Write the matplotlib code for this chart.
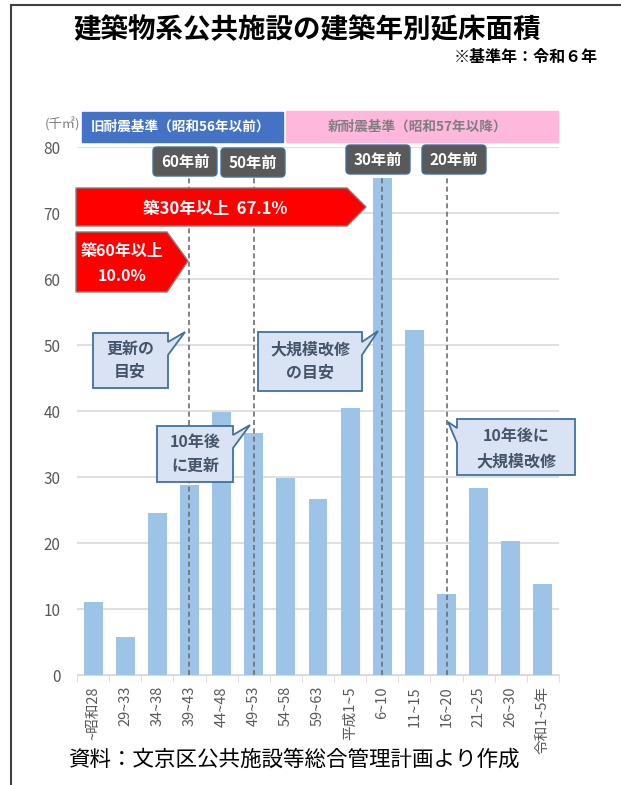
import matplotlib
matplotlib.use("Agg")
import matplotlib.pyplot as plt
from matplotlib.patches import Polygon, Rectangle, FancyBboxPatch
import numpy as np

plt.rcParams['font.family'] = ['Noto Sans CJK JP', 'DejaVu Sans']

# data (thousand m2)
periods = ['~昭和28', '29~33', '34~38', '39~43', '44~48', '49~53', '54~58', '59~63',
           '平成1~5', '6~10', '11~15', '16~20', '21~25', '26~30', '令和1~5年']
floor_area = [11.1, 5.7, 24.5, 28.8, 39.8, 36.6, 29.8, 26.7,
              40.4, 75.3, 52.2, 12.3, 28.4, 20.3, 13.8]
yticks = [0, 10, 20, 30, 40, 50, 60, 70, 80]

# reference lines: (category index, label)
ref_lines = [(3, '60年前'), (5, '50年前'), (9, '30年前'), (11, '20年前')]

W, H = 621, 785
fig = plt.figure(figsize=(W / 100, H / 100), dpi=100)
fig.patch.set_facecolor('white')

ax = fig.add_axes([77 / W, 1 - 675 / H, (559 - 77) / W, (675 - 147) / H])
x = np.arange(len(periods))
ax.bar(x, floor_area, width=0.59, color='#9DC3E6', zorder=2)
ax.set_xlim(-0.5, len(periods) - 0.5)
ax.set_ylim(0, 80)
ax.set_yticks(yticks)
ax.set_yticklabels([str(v) for v in yticks], fontsize=11, color='#595959')
ax.set_xticks(x)
ax.set_xticklabels(periods, rotation=90, fontsize=10.5, color='#595959')
ax.set_xticks(np.arange(len(periods) + 1) - 0.5, minor=True)
ax.tick_params(axis='x', which='major', length=0, pad=8)
ax.tick_params(axis='x', which='minor', length=5, color='#D9D9D9')
ax.tick_params(axis='y', length=0, pad=12)
ax.yaxis.grid(True, color='#D9D9D9', lw=1.2, zorder=0)
ax.set_axisbelow(True)
for s in ['top', 'right', 'left']:
    ax.spines[s].set_visible(False)
ax.spines['bottom'].set_color('#D9D9D9')

for idx, _ in ref_lines:
    ax.plot([idx, idx], [0, 75.6], ls=(0, (3, 2)), color='#6E6E6E', lw=1.2, zorder=3)

# overlay in pixel coordinates for annotations
ov = fig.add_axes([0, 0, 1, 1], zorder=5)
ov.set_xlim(0, W)
ov.set_ylim(H, 0)
ov.axis('off')
ov.patch.set_alpha(0)

# frame
ov.plot([11, 11], [5, H], color='#404040', lw=1.5)
ov.plot([11, W], [5, 5], color='#404040', lw=1.5)

ov.text(307, 30, '建築物系公共施設の建築年別延床面積', ha='center', va='center',
        fontsize=19.8, fontweight='bold', color='black')
ov.text(598, 57, '※基準年：令和６年', ha='right', va='center',
        fontsize=11.5, fontweight='bold', color='black')

# header bands
ov.add_patch(Rectangle((82, 112), 201, 30, color='#4472C4'))
ov.text(180, 127, '旧耐震基準（昭和56年以前）', ha='center', va='center',
        fontsize=9.8, fontweight='bold', color='white')
ov.add_patch(Rectangle((286, 111), 272, 31, color='#FFB7DB'))
ov.text(418, 127, '新耐震基準（昭和57年以降）', ha='center', va='center',
        fontsize=9.8, fontweight='bold', color='#7F7F7F')
ov.text(62, 124, '(千㎡)', ha='center', va='center', fontsize=9.5, color='#7F7F7F')

# reference labels
label_boxes = [(153, 147), (221, 148), (346, 145), (422, 145)]
for (bx, by), (_, lab) in zip(label_boxes, ref_lines):
    ov.add_patch(FancyBboxPatch((bx, by), 64, 29, boxstyle='round,pad=0,rounding_size=4',
                                fc='#595959', ec='#41719C', lw=1))
    ov.text(bx + 32, by + 15, lab, ha='center', va='center', fontsize=11,
            fontweight='bold', color='white')

# red arrows
ov.add_patch(Polygon([(76, 188), (347, 188), (366, 207), (347, 226), (76, 226)],
                     closed=True, fc='#FF0000', ec='#7F7F7F', lw=1))
ov.text(215, 209, '築30年以上  67.1%', ha='center', va='center', fontsize=12,
        fontweight='bold', color='white')
ov.add_patch(Polygon([(76, 232), (167, 232), (188, 261), (167, 292), (76, 292)],
                     closed=True, fc='#FF0000', ec='#7F7F7F', lw=1))
ov.text(122, 251, '築60年以上', ha='center', va='center', fontsize=11.5,
        fontweight='bold', color='white')
ov.text(122, 276, '10.0%', ha='center', va='center', fontsize=11.5,
        fontweight='bold', color='white')

# callouts
callouts = [
    ([(93, 333), (168, 333), (168, 342), (185, 332), (168, 355), (168, 388), (93, 388)],
     130, 349, 372, '更新の', '目安'),
    ([(157, 426), (233, 426), (233, 435), (250, 425), (233, 448), (233, 482), (157, 482)],
     195, 442, 466, '10年後', 'に更新'),
    ([(258, 332), (362, 332), (362, 342), (378, 331), (362, 355), (362, 391), (258, 391)],
     310, 349, 373, '大規模改修', 'の目安'),
    ([(457, 419), (575, 419), (575, 475), (457, 475), (457, 443), (448, 422), (457, 428)],
     516, 436, 461, '10年後に', '大規模改修'),
]
for pts, cx, y1, y2, l1, l2 in callouts:
    ov.add_patch(Polygon(pts, closed=True, fc='#DAE3F3', ec='#41719C', lw=1.3))
    ov.text(cx, y1, l1, ha='center', va='center', fontsize=11.5, fontweight='bold', color='#44546A')
    ov.text(cx, y2, l2, ha='center', va='center', fontsize=11.5, fontweight='bold', color='#44546A')

ov.text(294, 760, '資料：文京区公共施設等総合管理計画より作成', ha='center', va='center',
        fontsize=15.5, color='black')

fig.savefig('out.png', dpi=100)
